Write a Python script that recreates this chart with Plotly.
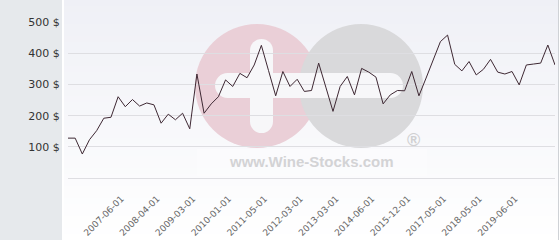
import plotly.graph_objects as go

# ---- data ----
values = [128, 128, 77, 123, 152, 192, 195, 261, 229, 252, 231, 241, 235, 176,
          205, 187, 208, 158, 334, 208, 238, 261, 315, 294, 336, 322, 363, 426,
          345, 264, 342, 294, 317, 278, 281, 369, 292, 214, 294, 326, 267, 352,
          340, 324, 238, 267, 281, 280, 342, 264, 321, 379, 438, 459, 365, 344,
          374, 331, 349, 381, 340, 334, 342, 299, 363, 366, 369, 427, 363]
point_index = list(range(len(values)))
tick_points = [8, 13, 18, 23, 28, 33, 38, 43, 48, 53, 58, 63]
tick_labels = ["2007-06-01", "2008-04-01", "2009-03-01", "2010-01-01",
               "2011-05-01", "2012-03-01", "2013-03-01", "2014-06-01",
               "2015-12-01", "2017-05-01", "2018-05-01", "2019-06-01"]
y_ticks = [100, 200, 300, 400, 500]
y_tick_labels = ["100 $", "200 $", "300 $", "400 $", "500 $"]

# ---- layout geometry (pixels) ----
W, H = 560, 240
L, R, T, B = 68, 5, 22, 62
PW, PH = W - L - R, H - T - B


def px(x):
    return (x - L) / PW


def py(y):
    return (H - B - y) / PH


shapes = []
# left panel
shapes.append(dict(type="rect", xref="paper", yref="paper", layer="below",
                   x0=px(0), x1=px(62), y0=py(H), y1=py(0),
                   fillcolor="#e6e9ec", line=dict(width=0)))
# gradient background
n = 40
for k in range(n):
    y0 = H * k / n
    y1 = H * (k + 1) / n
    t = (k + 0.5) / n
    c = [round(a + (255 - a) * t) for a in (239, 240, 246)]
    shapes.append(dict(type="rect", xref="paper", yref="paper", layer="below",
                       x0=px(64), x1=px(558), y0=py(y1), y1=py(y0),
                       fillcolor="rgb(%d,%d,%d)" % tuple(c), line=dict(width=0)))
# right border
shapes.append(dict(type="line", xref="paper", yref="paper", layer="below",
                   x0=px(558.5), x1=px(558.5), y0=py(H), y1=py(0),
                   line=dict(color="#cfd2d6", width=1)))


def circle(cx, cy, r, color):
    return dict(type="circle", xref="paper", yref="paper", layer="below",
                x0=px(cx - r), x1=px(cx + r), y0=py(cy + r), y1=py(cy - r),
                fillcolor=color, line=dict(width=0))


def rect(x0, y0, x1, y1, color):
    return dict(type="rect", xref="paper", yref="paper", layer="below",
                x0=px(x0), x1=px(x1), y0=py(y1), y1=py(y0),
                fillcolor=color, line=dict(width=0))


# watermark
shapes.append(rect(197, 149, 427, 176, "rgba(255,255,255,0.3)"))
shapes.append(circle(257, 86, 62, "#eacfd7"))
shapes.append(circle(361, 86, 62, "#d9d9db"))
bar = "#f7f7f9"
shapes.append(rect(227.5, 73, 390.5, 98, bar))
shapes.append(circle(227.5, 85.5, 12.5, bar))
shapes.append(circle(390.5, 85.5, 12.5, bar))
shapes.append(rect(250, 50.5, 273, 121.5, bar))
shapes.append(circle(261.5, 50.5, 11.5, bar))
shapes.append(circle(261.5, 121.5, 11.5, bar))

annotations = [
    dict(text="<b>www.Wine-Stocks.com</b>", xref="paper", yref="paper",
         x=px(311.5), y=py(161), xanchor="center", yanchor="middle",
         showarrow=False,
         font=dict(family="Liberation Sans, Arial", size=15, color="#d3d3d5")),
    dict(text="<b>®</b>", xref="paper", yref="paper",
         x=px(413), y=py(140), xanchor="center", yanchor="middle",
         showarrow=False,
         font=dict(family="Liberation Sans, Arial", size=18, color="#d0d0d2")),
]

fig = go.Figure()
fig.add_trace(go.Scatter(x=point_index, y=values, mode="lines",
                         line=dict(color="#3e2833", width=1),
                         hoverinfo="skip"))

fig.update_layout(
    width=W, height=H,
    margin=dict(l=L, r=R, t=T, b=B, pad=0),
    paper_bgcolor="white",
    plot_bgcolor="rgba(0,0,0,0)",
    showlegend=False,
    shapes=shapes,
    annotations=annotations,
    font=dict(family="DejaVu Sans", color="#333333"),
)
fig.update_xaxes(range=[0, len(values) - 1], tickmode="array",
                 tickvals=tick_points, ticktext=tick_labels, tickangle=-45,
                 showgrid=False, zeroline=False, showline=True,
                 linecolor="#dedee2", linewidth=1, automargin=False,
                 ticks="outside", ticklen=6, tickcolor="rgba(0,0,0,0)",
                 ticklabelstandoff=5, ticklabelshift=-4,
                 tickfont=dict(family="DejaVu Sans", size=9, color="#666666"))
fig.update_yaxes(range=[0, 501], tickmode="array", tickvals=y_ticks,
                 ticktext=y_tick_labels, showgrid=True, gridcolor="#dedee2",
                 gridwidth=1, zeroline=False, showline=False, automargin=False,
                 ticks="outside", ticklen=5, tickcolor="rgba(0,0,0,0)",
                 tickfont=dict(family="DejaVu Sans", size=11, color="#333333"))

fig.write_html("out.html", config={"displayModeBar": False})
